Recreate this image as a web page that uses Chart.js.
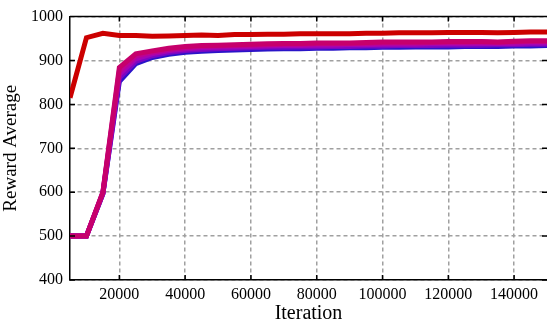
<!DOCTYPE html>
<html>
<head>
<meta charset="utf-8">
<script src="https://cdn.jsdelivr.net/npm/chart.js@4.4.1/dist/chart.umd.min.js"></script>
<style>
  html, body { margin: 0; padding: 0; background: #fff; }
  #wrap { width: 547px; height: 326px; }
</style>
</head>
<body>
<div id="wrap"><canvas id="rewardChart" width="547" height="326"></canvas></div>
<script>
// iterations, every 5000
const iterations = [5000, 10000, 15000, 20000, 25000, 30000, 35000, 40000, 45000, 50000,
  55000, 60000, 65000, 70000, 75000, 80000, 85000, 90000, 95000, 100000,
  105000, 110000, 115000, 120000, 125000, 130000, 135000, 140000, 145000, 150000];

const xTicks = [20000, 40000, 60000, 80000, 100000, 120000, 140000];
const yTicks = [400, 500, 600, 700, 800, 900, 1000];

// the red run on top
const redRun = [815, 952, 962, 957, 957, 955, 956, 957, 958, 957, 959, 959, 960, 960, 961,
  961, 961, 961, 962, 962, 963, 963, 963, 964, 964, 964, 963, 964, 965, 965];

// the bundle, blue -> crimson
const blueRun = [500, 500, 596, 852, 893, 907, 914, 919, 921, 923, 924, 925, 926, 927, 927,
  928, 928, 929, 929, 930, 930, 931, 931, 931, 932, 932, 932, 933, 933, 934];
const purpleRun = [500, 500, 597, 860, 898, 911, 918, 923, 925, 927, 928, 929, 930, 930, 931,
  931, 932, 932, 933, 933, 934, 934, 934, 935, 935, 935, 936, 936, 937, 937];
const violetRun = [500, 500, 598, 868, 904, 915, 922, 926, 929, 930, 931, 932, 933, 934, 934,
  935, 935, 936, 936, 937, 937, 937, 938, 938, 938, 939, 939, 939, 940, 940];
const magentaRun = [500, 500, 599, 876, 910, 919, 925, 929, 932, 933, 934, 935, 936, 937, 937,
  938, 938, 939, 939, 940, 940, 940, 941, 941, 941, 942, 941, 942, 943, 943];
const crimsonRun = [500, 500, 600, 884, 915, 922, 928, 932, 934, 935, 936, 937, 938, 939, 939,
  940, 940, 940, 941, 942, 942, 942, 942, 943, 943, 943, 942, 944, 945, 945];

// chart.js paints dataset 0 on top, so topmost first
const runs = [
  { data: redRun, color: '#cc0000' },
  { data: crimsonRun, color: '#c6006c' },
  { data: magentaRun, color: '#bc0294' },
  { data: violetRun, color: '#a404b4' },
  { data: purpleRun, color: '#7a06c4' },
  { data: blueRun, color: '#2a14c8' }
];

// inner tick marks + top frame line
const frame = {
  id: 'frame',
  afterDatasetsDraw(chart) {
    const { ctx, chartArea: a, scales } = chart;
    ctx.save();
    ctx.strokeStyle = '#000';
    ctx.lineWidth = 1.5;
    ctx.setLineDash([]);
    ctx.beginPath();
    ctx.moveTo(a.left, a.top);
    ctx.lineTo(a.right, a.top);
    xTicks.forEach(v => {
      const px = scales.x.getPixelForValue(v);
      ctx.moveTo(px, a.bottom); ctx.lineTo(px, a.bottom - 5);
      ctx.moveTo(px, a.top); ctx.lineTo(px, a.top + 5);
    });
    yTicks.forEach(v => {
      const py = scales.y.getPixelForValue(v);
      ctx.moveTo(a.left, py); ctx.lineTo(a.left + 5, py);
      ctx.moveTo(a.right, py); ctx.lineTo(a.right - 5, py);
    });
    ctx.stroke();
    ctx.restore();
  }
};

const font = "'Liberation Serif', 'Times New Roman', serif";
Chart.defaults.font.family = font;
Chart.defaults.color = '#000';

new Chart(document.getElementById('rewardChart'), {
  type: 'line',
  data: {
    datasets: runs.map(r => ({
      data: iterations.map((x, i) => ({ x: x, y: r.data[i] })),
      borderColor: r.color,
      backgroundColor: r.color,
      borderWidth: 5,
      pointRadius: 0,
      tension: 0,
      fill: false
    }))
  },
  options: {
    responsive: false,
    animation: false,
    layout: { padding: { top: 13, right: 0, left: 0, bottom: 0 } },
    plugins: { legend: { display: false }, tooltip: { enabled: false } },
    scales: {
      x: {
        type: 'linear',
        min: 5000,
        max: 150000,
        afterBuildTicks: s => { s.ticks = xTicks.map(v => ({ value: v })); },
        afterFit: s => { s.height = 46; },
        ticks: { color: '#000', font: { family: font, size: 16 }, padding: 5, maxRotation: 0,
          callback: v => String(v) },
        grid: { color: '#a0a0a0', lineWidth: 1.5, drawTicks: false },
        border: { display: true, color: '#000', width: 1.5, dash: [4, 3] },
        title: { display: true, text: 'Iteration', color: '#000',
          font: { family: font, size: 20 }, padding: { top: 0, bottom: 0 } }
      },
      y: {
        min: 400,
        max: 1000,
        afterBuildTicks: s => { s.ticks = yTicks.map(v => ({ value: v })); },
        afterFit: s => { s.width = 70; },
        ticks: { color: '#000', font: { family: font, size: 16 }, padding: 7,
          callback: v => String(v) },
        grid: { color: '#a0a0a0', lineWidth: 1.5, drawTicks: false },
        border: { display: true, color: '#000', width: 1.5, dash: [4, 3] },
        title: { display: true, text: 'Reward Average', color: '#000',
          font: { family: font, size: 19 }, padding: { top: 0, bottom: 0 } }
      }
    }
  },
  plugins: [frame]
});
</script>
</body>
</html>
